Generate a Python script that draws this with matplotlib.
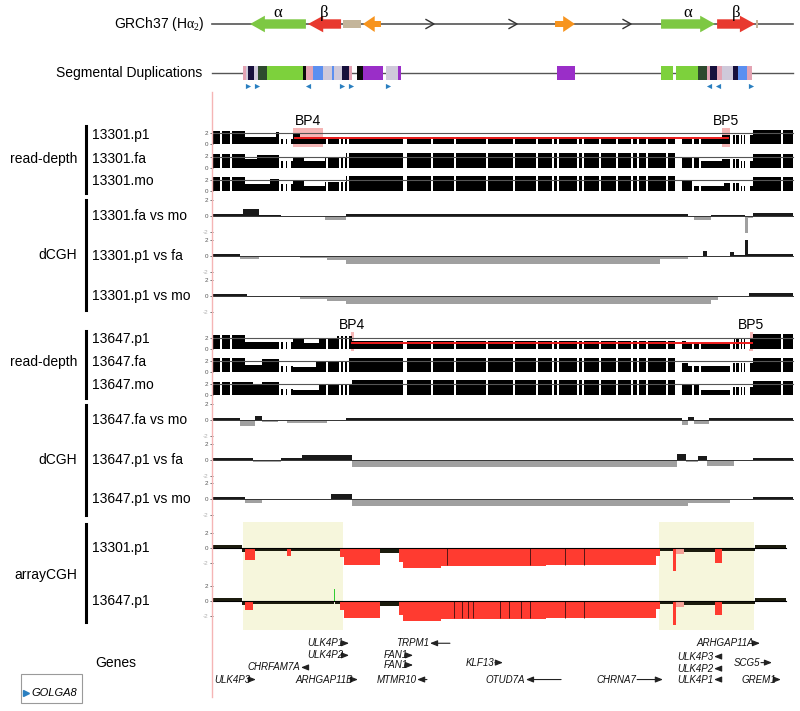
import matplotlib
matplotlib.use("Agg")
import matplotlib.pyplot as plt
from matplotlib.patches import Polygon, Rectangle
from matplotlib.lines import Line2D

plt.rcParams['font.family'] = ['Liberation Sans', 'DejaVu Sans']
plt.rcParams['mathtext.fontset'] = 'custom'
plt.rcParams['mathtext.rm'] = 'Liberation Serif'
plt.rcParams['mathtext.it'] = 'Liberation Serif'
plt.rcParams['mathtext.bf'] = 'Liberation Serif:bold'

# ---------------- data (chr15, Mb) ----------------
# reference haplotype features: start, end, strand, kind
ref_start = [30.295, 30.600, 30.784, 30.889, 31.900, 32.458, 32.753, 32.958]
ref_end = [30.589, 30.774, 30.879, 30.984, 32.005, 32.742, 32.953, 32.968]
ref_strand = [-1, -1, 0, -1, 1, 1, 1, 0]
ref_kind = ['alpha', 'beta', 'tan', 'orange', 'orange', 'alpha', 'beta', 'tan']
ref_chevrons = [31.242, 31.679, 32.279]

# segmental duplications: start, end, family
sd_blocks = [
    (30.258, 30.274, 'pink'), (30.274, 30.284, 'lgray'), (30.284, 30.316, 'navy'),
    (30.316, 30.337, 'lgray'), (30.337, 30.384, 'dkgreen'), (30.384, 30.574, 'green'),
    (30.574, 30.589, 'black'), (30.589, 30.626, 'pink'), (30.626, 30.679, 'blue'),
    (30.679, 30.726, 'lgray'), (30.726, 30.737, 'blue'), (30.737, 30.779, 'lgray'),
    (30.779, 30.816, 'navy'), (30.816, 30.832, 'pink'), (30.858, 30.889, 'black'),
    (30.889, 30.995, 'purple'), (31.011, 31.074, 'lgray'), (31.074, 31.089, 'purple'),
    (31.911, 32.005, 'purple'),
    (32.458, 32.521, 'green'), (32.537, 32.653, 'green'), (32.653, 32.700, 'dkgreen'),
    (32.700, 32.716, 'pink'), (32.716, 32.753, 'navy'), (32.753, 32.779, 'pink'),
    (32.779, 32.837, 'lgray'), (32.837, 32.863, 'navy'), (32.863, 32.911, 'blue'),
    (32.911, 32.937, 'pink'),
]
golga8_pos = [30.284, 30.332, 30.600, 30.779, 30.826, 31.021, 32.711, 32.758, 32.932]
golga8_dir = [1, 1, -1, 1, 1, 1, -1, -1, 1]

# regions without read-depth data
masked = [
    (30.137, 30.147), (30.190, 30.200), (30.448, 30.458), (30.466, 30.482), (30.488, 30.512),
    (30.695, 30.705), (30.763, 30.773), (30.785, 30.793), (30.806, 30.815),
    (31.100, 31.121), (31.248, 31.258), (31.369, 31.379), (31.537, 31.547),
    (31.679, 31.689), (31.800, 31.810), (31.884, 31.894), (31.911, 31.921),
    (32.016, 32.026), (32.042, 32.052), (32.132, 32.142), (32.221, 32.231),
    (32.300, 32.310), (32.332, 32.342), (32.379, 32.389), (32.484, 32.494),
    (32.532, 32.568), (32.621, 32.631), (32.658, 32.668), (32.821, 32.837),
    (32.845, 32.855), (32.869, 32.879), (32.885, 32.893), (32.900, 32.926),
    (33.090, 33.100),
]

# read-depth (copy number) segments: start, end, level
rd_13301_p1 = [(30.10, 30.27, 2.4), (30.27, 30.43, 1.4), (30.43, 30.46, 2.2), (30.46, 30.52, 1.0),
               (30.52, 30.56, 1.8), (30.56, 32.57, 1.4), (32.57, 32.78, 1.0), (32.78, 32.94, 1.7),
               (32.94, 33.153, 2.6)]
rd_13301_fa = [(30.10, 30.27, 2.4), (30.27, 30.33, 1.5), (30.33, 30.46, 2.3), (30.46, 30.52, 1.2),
               (30.52, 30.58, 1.9), (30.58, 30.69, 1.1), (30.69, 30.80, 1.8), (30.80, 32.55, 2.6),
               (32.55, 32.66, 1.8), (32.66, 32.78, 1.1), (32.78, 32.88, 1.6), (32.88, 32.94, 1.1),
               (32.94, 33.153, 2.5)]
rd_13301_mo = [(30.10, 30.27, 2.5), (30.27, 30.40, 1.2), (30.40, 30.46, 2.2), (30.46, 30.52, 1.2),
               (30.52, 30.58, 2.0), (30.58, 30.69, 1.0), (30.69, 30.80, 1.7), (30.80, 32.55, 2.7),
               (32.55, 32.63, 1.8), (32.63, 32.79, 0.9), (32.79, 32.88, 1.5), (32.88, 32.94, 1.0),
               (32.94, 33.153, 2.5)]
rd_13647_p1 = [(30.10, 30.27, 2.5), (30.27, 30.46, 1.2), (30.46, 30.52, 1.3), (30.52, 30.58, 1.8),
               (30.58, 30.66, 1.0), (30.66, 30.75, 1.7), (30.75, 30.83, 2.3), (30.83, 32.59, 1.4),
               (32.59, 32.84, 1.0), (32.84, 32.94, 1.8), (32.94, 33.153, 2.6)]
rd_13647_fa = [(30.10, 30.27, 2.5), (30.27, 30.36, 1.3), (30.36, 30.46, 2.3), (30.46, 30.52, 1.0),
               (30.52, 30.64, 0.9), (30.64, 30.81, 1.7), (30.81, 32.54, 2.6), (32.54, 32.60, 1.6),
               (32.60, 32.82, 1.0), (32.82, 32.94, 1.6), (32.94, 33.153, 2.5)]
rd_13647_mo = [(30.10, 30.31, 2.5), (30.31, 30.36, 1.9), (30.36, 30.46, 2.4), (30.46, 30.52, 1.2),
               (30.52, 30.66, 0.9), (30.66, 30.83, 1.8), (30.83, 32.55, 2.7), (32.55, 32.66, 1.9),
               (32.66, 32.82, 0.9), (32.82, 32.94, 1.5), (32.94, 33.153, 2.6)]

# dCGH log ratio segments: start, end, value
dc_13301_fa_mo = [(30.10, 30.26, 0.2), (30.26, 30.34, 0.85), (30.34, 30.46, 0.15), (30.46, 30.69, 0.05),
                  (30.69, 30.80, -0.45), (30.80, 32.60, 0.2), (32.60, 32.63, -0.15), (32.63, 32.72, -0.5),
                  (32.72, 32.90, 0.15), (32.90, 32.915, -2.1), (32.915, 32.94, -0.3), (32.94, 33.153, 0.4)]
dc_13301_p1_fa = [(30.10, 30.24, 0.3), (30.24, 30.34, -0.4), (30.34, 30.56, 0.05), (30.56, 30.70, -0.3),
                  (30.70, 30.80, -0.5), (30.80, 32.45, -0.95), (32.45, 32.60, -0.4), (32.60, 32.68, -0.1),
                  (32.68, 32.70, 0.6), (32.70, 32.82, 0.05), (32.82, 32.84, 0.5), (32.84, 32.90, 0.1),
                  (32.90, 32.915, 2.0), (32.915, 33.153, 0.3)]
dc_13301_p1_mo = [(30.10, 30.28, 0.3), (30.28, 30.56, -0.1), (30.56, 30.70, -0.35), (30.70, 30.80, -0.6),
                  (30.80, 32.72, -1.0), (32.72, 32.76, -0.5), (32.76, 32.92, 0.05), (32.92, 33.153, 0.4)]
dc_13647_fa_mo = [(30.10, 30.24, 0.2), (30.24, 30.32, -0.7), (30.32, 30.36, 0.5), (30.36, 30.44, -0.2),
                  (30.44, 30.49, 0.05), (30.49, 30.70, -0.4), (30.70, 30.80, 0.05), (30.80, 32.57, 0.2),
                  (32.57, 32.60, -0.6), (32.60, 32.63, 0.4), (32.63, 32.71, -0.5), (32.71, 33.153, 0.25)]
dc_13647_p1_fa = [(30.10, 30.31, 0.2), (30.31, 30.46, -0.3), (30.46, 30.57, 0.2), (30.57, 30.83, 0.65),
                  (30.83, 32.54, -0.9), (32.54, 32.59, 0.8), (32.59, 32.65, -0.3), (32.65, 32.70, 0.5),
                  (32.70, 32.84, -0.7), (32.84, 32.94, 0.05), (32.94, 33.153, 0.3)]
dc_13647_p1_mo = [(30.10, 30.27, 0.3), (30.27, 30.36, -0.5), (30.36, 30.66, -0.1), (30.66, 30.72, 0.05),
                  (30.72, 30.83, 0.6), (30.83, 32.60, -0.9), (32.60, 32.82, -0.5), (32.82, 32.94, 0.05),
                  (32.94, 33.153, 0.3)]

# arrayCGH segments: start, end, log2 ratio, call (n = normal, d = deleted, l = partial, g = gain)
ac_13301_p1 = [(30.10, 30.25, 0.4, 'n'), (30.25, 30.27, -0.5, 'n'), (30.27, 30.32, -1.6, 'd'),
               (30.32, 30.49, -0.4, 'n'), (30.49, 30.51, -1.1, 'd'), (30.51, 30.77, -0.45, 'n'),
               (30.77, 30.79, -1.2, 'd'), (30.79, 30.98, -2.2, 'd'), (30.98, 31.08, -0.6, 'n'),
               (31.08, 31.10, -1.8, 'd'), (31.10, 31.30, -2.7, 'd'), (31.30, 31.85, -2.4, 'd'),
               (31.85, 32.43, -2.2, 'd'), (32.43, 32.45, -1.0, 'd'), (32.45, 32.52, -0.4, 'n'),
               (32.52, 32.535, -3.0, 'd'), (32.535, 32.58, -0.8, 'l'), (32.58, 32.74, -0.5, 'n'),
               (32.74, 32.78, -2.0, 'd'), (32.78, 32.95, -0.4, 'n'), (32.95, 33.116, 0.4, 'n')]
ac_13647_p1 = [(30.10, 30.25, 0.4, 'n'), (30.25, 30.27, -0.5, 'n'), (30.27, 30.31, -1.2, 'd'),
               (30.31, 30.735, -0.4, 'n'), (30.735, 30.740, 1.6, 'g'), (30.740, 30.77, -0.4, 'n'),
               (30.77, 30.79, -1.2, 'd'), (30.79, 30.98, -2.2, 'd'), (30.98, 31.08, -0.6, 'n'),
               (31.08, 31.10, -1.8, 'd'), (31.10, 31.30, -2.7, 'd'), (31.30, 31.85, -2.4, 'd'),
               (31.85, 32.43, -2.2, 'd'), (32.43, 32.45, -1.0, 'd'), (32.45, 32.52, -0.4, 'n'),
               (32.52, 32.535, -3.2, 'd'), (32.535, 32.58, -0.8, 'l'), (32.58, 32.74, -0.5, 'n'),
               (32.74, 32.78, -1.8, 'd'), (32.78, 32.95, -0.4, 'n'), (32.95, 33.116, 0.4, 'n')]
ac_13301_probes = [31.33, 31.77, 31.95, 32.05]
ac_13647_probes = [31.37, 31.41, 31.44, 31.47, 31.61, 31.66, 31.72, 31.77, 31.95, 32.05]
array_highlight = [(30.258, 30.784), (32.447, 32.947)]

# breakpoints and deletions
bp_13301 = [(30.52, 30.68), (32.78, 32.82)]
bp_13647 = [(30.826, 30.842), (32.92, 32.94)]
del_13301 = (30.53, 32.81)
del_13647 = (30.834, 32.937)

# genes
gene_names = ["ULK4P1", "ULK4P2", "CHRFAM7A", "ULK4P3", "ARHGAP11B", "TRPM1", "FAN1", "FAN1",
              "MTMR10", "KLF13", "OTUD7A", "CHRNA7", "ARHGAP11A", "ULK4P3", "ULK4P2", "ULK4P1",
              "SCG5", "GREM1"]
gene_start = [30.789, 30.789, 30.563, 30.300, 30.842, 31.242, 31.126, 31.126, 31.174, 31.584,
              31.747, 32.332, 32.953, 32.737, 32.737, 32.737, 32.984, 33.068]
gene_end = [30.816, 30.816, 30.589, 30.326, 30.863, 31.347, 31.153, 31.153, 31.226, 31.626,
            31.932, 32.468, 32.979, 32.758, 32.758, 32.758, 33.042, 33.089]
gene_strand = [1, 1, -1, 1, 1, -1, 1, 1, -1, 1, -1, 1, 1, -1, -1, -1, 1, 1]
gene_row = [0, 1, 2, 3, 3, 0, 1, 1.8, 3, 1.6, 3, 3, 0, 1.1, 2.1, 3, 1.6, 3]

# ---------------- layout ----------------
W, H = 800, 711
PX_L, PX_R = 213, 795
X0, X1 = 30.10, 33.163
LINE_END = 33.153

fig = plt.figure(figsize=(W / 100, H / 100), dpi=100)


def track_ax(y_zero, lo, hi, ppu):
    # y_zero: pixel row of value 0, ppu: pixels per unit
    top = y_zero - hi * ppu
    bottom = y_zero - lo * ppu
    ax = fig.add_axes([PX_L / W, 1 - bottom / H, (PX_R - PX_L) / W, (bottom - top) / H])
    ax.set_xlim(X0, X1)
    ax.set_ylim(lo, hi)
    ax.patch.set_alpha(0)
    for s in ax.spines.values():
        s.set_visible(False)
    ax.set_xticks([])
    ax.set_yticks([])
    return ax


def ticks(ax, vals):
    ax.set_yticks(vals)
    ax.set_yticklabels([str(v) for v in vals])
    ax.tick_params(axis='y', length=2.5, width=0.6, pad=1, labelsize=4.5, colors='#555')
    for lbl, v in zip(ax.get_yticklabels(), vals):
        if v < 0:
            lbl.set_color('#b0b0b0')


def ftext(x, y, s, **kw):
    fig.text(x / W, 1 - y / H, s, **kw)


def bracket(y0, y1):
    fig.add_artist(Line2D([86 / W, 86 / W], [1 - y0 / H, 1 - y1 / H], color='black', lw=2.2))


# ---- reference haplotype ----
ref_style = {
    'alpha': dict(color='#7dc843', bh=4.7, hh=8.3, hl=0.078),
    'beta': dict(color='#e8392f', bh=4.7, hh=8.3, hl=0.080),
    'orange': dict(color='#f7941e', bh=3.0, hh=8.0, hl=0.062),
    'tan': dict(color='#c4b59a', bh=4.3, hh=4.3, hl=0),
}
ax = track_ax(24, -20, 20, 1)
ax.plot([30.095, LINE_END], [0, 0], color='#555555', lw=1.2, clip_on=False, zorder=1)
for s, e, st, k in zip(ref_start, ref_end, ref_strand, ref_kind):
    p = ref_style[k]
    bh, hh, hl = p['bh'], p['hh'], p['hl']
    if st < 0:
        verts = [(s, 0), (s + hl, hh), (s + hl, bh), (e, bh), (e, -bh), (s + hl, -bh), (s + hl, -hh)]
    elif st > 0:
        verts = [(e, 0), (e - hl, hh), (e - hl, bh), (s, bh), (s, -bh), (e - hl, -bh), (e - hl, -hh)]
    else:
        verts = [(s, bh), (e, bh), (e, -bh), (s, -bh)]
    ax.add_patch(Polygon(verts, closed=True, color=p['color'], lw=0, zorder=2))
    if k in ('alpha', 'beta'):
        sym = 'α' if k == 'alpha' else 'β'
        ax.text((s + e) / 2, 11, sym, ha='center', va='center', fontsize=12,
                family=['Liberation Serif', 'DejaVu Serif'])
for c in ref_chevrons:
    ax.plot([c - 0.021, c + 0.021, c - 0.021], [4.5, 0, -4.5], color='#333333', lw=1.0, zorder=2)
ftext(205, 24, r'GRCh37 (H$\alpha_2$)', ha='right', va='center', fontsize=10)

# ---- segmental duplications ----
sd_colors = {'green': '#7dd13c', 'dkgreen': '#2e4a2e', 'navy': '#17103c', 'blue': '#5b8ff0',
             'purple': '#9a2ec8', 'pink': '#e3a3b3', 'lgray': '#cfc9da', 'black': '#0c0c0c'}
ax = track_ax(73, -20, 20, 1)
ax.plot([30.095, LINE_END], [0, 0], color='#555555', lw=1.0, clip_on=False, zorder=1)
for s, e, fam in sd_blocks:
    ax.add_patch(Rectangle((s, -6.5), e - s, 13, color=sd_colors[fam], lw=0, zorder=2))
for pos, d in zip(golga8_pos, golga8_dir):
    ax.scatter(pos, -12.5, marker='>' if d > 0 else '<', s=14, color='#2a7fc0', lw=0, zorder=3)
ftext(202, 73, 'Segmental Duplications', ha='right', va='center', fontsize=10)

# pink position guide
fig.add_artist(Line2D([212 / W, 212 / W], [1 - 92 / H, 1 - 697 / H], color='#f5b5b5', lw=1.0))


# ---- read-depth ----
def draw_depth(y_zero, segs, bps=None, deletion=None, label_y=None):
    ax = track_ax(y_zero, 0, 3.0, 5.5)
    for s, e, v in segs:
        ax.bar(s, v, width=e - s, align='edge', color='black', linewidth=0, zorder=1)
    for s, e in masked:
        ax.bar(s, 3.0, width=e - s, align='edge', color='white', linewidth=0, zorder=2)
    ax.plot([X0, LINE_END], [2, 2], color='#555555', lw=0.8, zorder=3)
    ticks(ax, [0, 2])
    if bps:
        for s, e in bps:
            ax.add_patch(Rectangle((s, -0.45), e - s, 3.45, color='#f29c9c', alpha=0.75,
                                   lw=0, zorder=0, clip_on=False))
        ax.plot(deletion, [1.1, 1.1], color='#ee1c1c', lw=1.4, zorder=4)
        for (s, e), name in zip(bps, ['BP4', 'BP5']):
            ax.text((s + e) / 2, label_y, name, ha='center', va='center', fontsize=10)
    return ax


draw_depth(144.3, rd_13301_p1, bp_13301, del_13301, 4.2)
draw_depth(167.5, rd_13301_fa)
draw_depth(191.0, rd_13301_mo)
draw_depth(348.7, rd_13647_p1, bp_13647, del_13647, 4.3)
draw_depth(371.8, rd_13647_fa)
draw_depth(395.3, rd_13647_mo)


# ---- dCGH ----
def draw_dcgh(y_zero, segs):
    ax = track_ax(y_zero, -2.2, 2.4, 8)
    for s, e, v in segs:
        ax.bar(s, v, width=e - s, align='edge', color='#1a1a1a' if v > 0 else '#a0a0a0',
               linewidth=0, zorder=1)
    ax.plot([X0, LINE_END], [0, 0], color='#333333', lw=0.7, zorder=3)
    ticks(ax, [-2, 0, 2])


draw_dcgh(216, dc_13301_fa_mo)
draw_dcgh(256, dc_13301_p1_fa)
draw_dcgh(296, dc_13301_p1_mo)
draw_dcgh(420, dc_13647_fa_mo)
draw_dcgh(460, dc_13647_p1_fa)
draw_dcgh(499, dc_13647_p1_mo)

# ---- arrayCGH ----
ax = track_ax(630, 0, 1, 108)
for s, e in array_highlight:
    ax.axvspan(s, e, color='#f6f6dc', lw=0, zorder=0)

call_colors = {'n': '#1c1c0e', 'd': '#ff3b30', 'l': '#f4a096', 'g': '#33cc33'}


def draw_array(y_zero, segs, probes):
    ax = track_ax(y_zero, -3.4, 2.6, 7.5)
    for s, e, v, c in segs:
        ax.bar(s, v, width=e - s, align='edge', color=call_colors[c], linewidth=0, zorder=1)
    ax.vlines(probes, -2.3, 0, color='#3a1010', lw=0.6, zorder=2)
    ax.plot([X0, 33.116], [0, 0], color='black', lw=0.8, zorder=3)
    ticks(ax, [-2, 0, 2])


draw_array(548, ac_13301_p1, ac_13301_probes)
draw_array(601, ac_13647_p1, ac_13647_probes)

# ---- genes ----
ax = track_ax(688, 0, 1, 52)
ax.set_ylim(3.7, -0.6)
for name, s, e, st, r in zip(gene_names, gene_start, gene_end, gene_strand, gene_row):
    tip, tail = (e, s) if st > 0 else (s, e)
    ax.annotate('', xy=(tip, r), xytext=(tail, r),
                arrowprops=dict(arrowstyle='-|>,head_length=0.55,head_width=0.22', color='#222222',
                                lw=0.8, shrinkA=0, shrinkB=0, mutation_scale=8))
    ax.text(s - 0.003, r, name, ha='right', va='center', fontsize=7, style='italic', color='#111111')

# ---- left labels ----
bracket(126, 193)
bracket(200, 310)
bracket(331, 398)
bracket(405, 515)
bracket(524, 622)
for y, s in [(159, 'read-depth'), (255, 'dCGH'), (362, 'read-depth'), (460, 'dCGH'), (575, 'arrayCGH')]:
    ftext(77, y, s, ha='right', va='center', fontsize=10)
samples = [(135, '13301.p1'), (159, '13301.fa'), (181, '13301.mo'),
           (216, '13301.fa vs mo'), (256, '13301.p1 vs fa'), (296, '13301.p1 vs mo'),
           (339, '13647.p1'), (362, '13647.fa'), (385, '13647.mo'),
           (420, '13647.fa vs mo'), (460, '13647.p1 vs fa'), (499, '13647.p1 vs mo'),
           (548, '13301.p1'), (601, '13647.p1')]
for y, s in samples:
    ftext(92, y, s, ha='left', va='center', fontsize=10)
ftext(116, 663, 'Genes', ha='center', va='center', fontsize=10)

# GOLGA8 key
fig.add_artist(Rectangle((21 / W, 1 - 703 / H), 61 / W, 29 / H, transform=fig.transFigure,
                         fill=False, edgecolor='#9a9a9a', lw=0.8))
fig.add_artist(Line2D([26 / W], [1 - 693 / H], marker='>', color='#2a7fc0', markersize=4, lw=0))
ftext(31, 693, 'GOLGA8', ha='left', va='center', fontsize=8, style='italic')

fig.savefig('out.png', dpi=100)
